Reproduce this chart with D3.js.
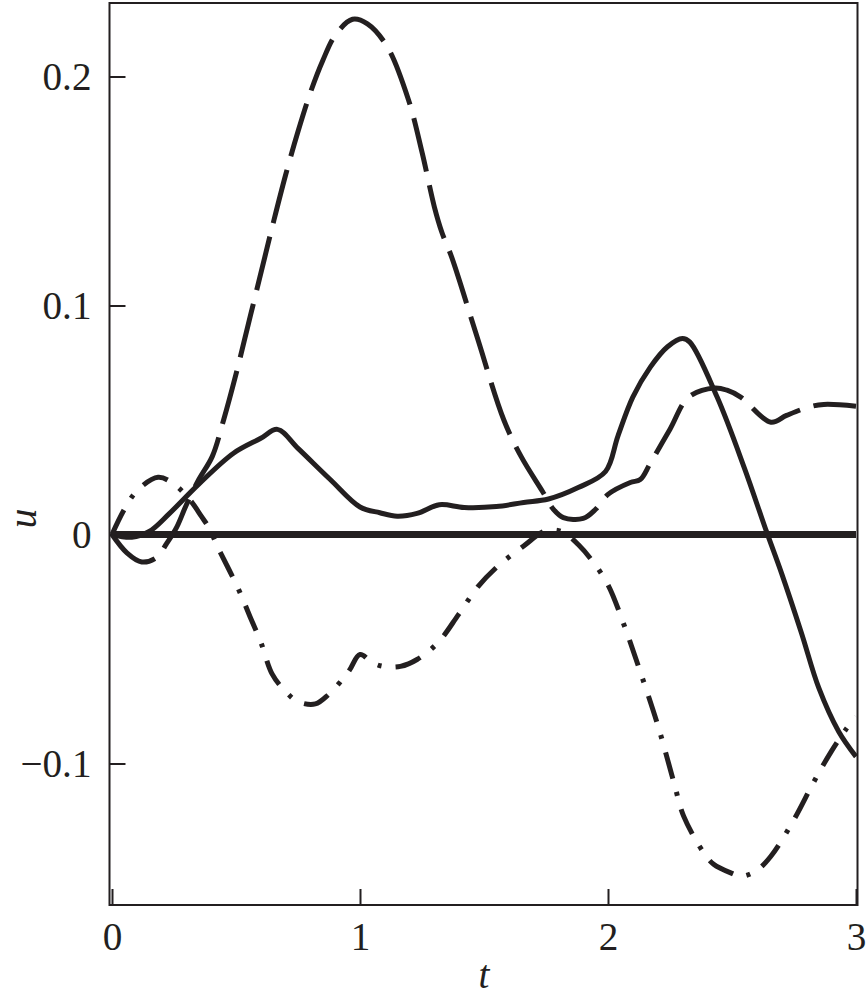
<!DOCTYPE html>
<html lang="en">
<head>
    <meta charset="UTF-8">
    <title>u(t)</title>
    <style>
        body { margin: 0; background: #fff; }
        svg text { font-family: "Liberation Serif", "Times New Roman", Times, serif; fill: #231f20; }
    </style>
    <script src="https://cdn.jsdelivr.net/npm/d3@7"></script>
</head>
<body>
<script>
    // tick values
    var xTicks = [0, 1, 2, 3];
    var yTicks = [0.2, 0.1, 0, -0.1];

    // solid curve
    var solidT = [0, 0.08, 0.15, 0.23, 0.35, 0.49, 0.6, 0.667, 0.75, 0.88, 1.0, 1.08, 1.15, 1.23, 1.32, 1.42, 1.55, 1.66, 1.76, 1.88, 1.99, 2.04, 2.1, 2.17, 2.24, 2.3, 2.33, 2.44, 2.55, 2.64, 2.7, 2.78, 2.85, 2.93, 3.0];
    var solidU = [0, -0.0012, 0.0013, 0.009, 0.022, 0.0355, 0.042, 0.0459, 0.0376, 0.024, 0.012, 0.0095, 0.008, 0.0092, 0.013, 0.0118, 0.0122, 0.014, 0.0155, 0.0205, 0.0275, 0.043, 0.06, 0.073, 0.082, 0.0856, 0.084, 0.06, 0.029, 0.001, -0.017, -0.043, -0.067, -0.086, -0.097];

    // long-dashed curve
    var dashT = [0, 0.06, 0.12, 0.18, 0.22, 0.26, 0.3, 0.35, 0.404, 0.45, 0.5, 0.55, 0.6, 0.65, 0.7, 0.75, 0.8, 0.85, 0.9, 0.97, 1.03, 1.11, 1.195, 1.25, 1.3, 1.33, 1.37, 1.47, 1.58, 1.65, 1.736, 1.78, 1.82, 1.9, 1.95, 2.0, 2.09, 2.13, 2.17, 2.25, 2.325, 2.43, 2.48, 2.535, 2.657, 2.72, 2.806, 2.87, 3.0];
    var dashU = [0, -0.008, -0.012, -0.01, -0.004, 0.003, 0.013, 0.024, 0.034, 0.05, 0.07, 0.092, 0.114, 0.136, 0.157, 0.176, 0.193, 0.207, 0.218, 0.225, 0.223, 0.213, 0.19, 0.167, 0.143, 0.132, 0.121, 0.087, 0.05, 0.034, 0.0188, 0.011, 0.0074, 0.007, 0.011, 0.0175, 0.0227, 0.024, 0.031, 0.046, 0.06, 0.064, 0.063, 0.06, 0.049, 0.052, 0.0555, 0.0568, 0.056];

    // dash-dot curve
    var dotT = [0, 0.05, 0.1, 0.186, 0.25, 0.315, 0.36, 0.396, 0.424, 0.505, 0.557, 0.6, 0.646, 0.7, 0.75, 0.82, 0.872, 0.953, 1.0, 1.05, 1.094, 1.163, 1.23, 1.316, 1.397, 1.474, 1.554, 1.66, 1.74, 1.78, 1.82, 1.88, 1.94, 2.0, 2.063, 2.124, 2.2, 2.265, 2.305, 2.386, 2.426, 2.5, 2.535, 2.596, 2.656, 2.75, 2.83, 2.9, 2.96, 3.0];
    var dotU = [0, 0.011, 0.019, 0.025, 0.022, 0.015, 0.008, 0.002, -0.005, -0.0227, -0.036, -0.047, -0.061, -0.0686, -0.073, -0.074, -0.07, -0.06, -0.0524, -0.056, -0.0576, -0.0576, -0.0546, -0.047, -0.035, -0.023, -0.014, -0.005, 0.0013, 0.002, 0.001, -0.0044, -0.012, -0.022, -0.039, -0.058, -0.083, -0.108, -0.123, -0.139, -0.144, -0.148, -0.1493, -0.147, -0.1406, -0.1245, -0.108, -0.0948, -0.085, -0.0795];

    // zero line
    var zeroT = [0, 3];
    var zeroU = [0, 0];

    var ink = "#231f20";
    var width = 866, height = 1002;
    var frame = {left: 109.5, right: 857.5, top: 3, bottom: 905};

    var svg = d3.select("body").append("svg")
        .attr("width", width)
        .attr("height", height);

    // size the serif face so "0.2" is about as wide as in the print
    var probe = svg.append("text").attr("font-size", 40).text("0.2");
    var probeW = probe.node().getComputedTextLength();
    probe.remove();
    var fs = probeW > 0 ? Math.min(40, 40 * 49 / probeW) : 40;

    var x = d3.scaleLinear().domain([0, 3]).range([112, 856]);
    var y = d3.scaleLinear().domain([-0.1618, 0.2321]).range([frame.bottom, frame.top]);

    // frame
    svg.append("rect")
        .attr("x", frame.left)
        .attr("y", frame.top)
        .attr("width", frame.right - frame.left)
        .attr("height", frame.bottom - frame.top)
        .attr("fill", "none")
        .attr("stroke", ink)
        .attr("stroke-width", 2);

    // x axis, ticks pointing in
    var xAxis = d3.axisBottom(x)
        .tickValues(xTicks)
        .tickFormat(d3.format("d"))
        .tickSizeInner(-16)
        .tickSizeOuter(0)
        .tickPadding(17);

    var gx = svg.append("g")
        .attr("transform", "translate(0," + frame.bottom + ")")
        .call(xAxis);
    gx.select(".domain").remove();
    gx.selectAll(".tick line").attr("stroke", ink).attr("stroke-width", 2);
    gx.selectAll(".tick text")
        .attr("font-size", fs)
        .attr("fill", ink);

    // y axis
    var yAxis = d3.axisLeft(y)
        .tickValues(yTicks)
        .tickFormat(d => d === 0 ? "0" : d3.format(".1f")(d))
        .tickSizeInner(-16)
        .tickSizeOuter(0)
        .tickPadding(18);

    var gy = svg.append("g")
        .attr("transform", "translate(" + frame.left + ",0)")
        .call(yAxis);
    gy.select(".domain").remove();
    gy.selectAll(".tick line").attr("stroke", ink).attr("stroke-width", 2);
    gy.selectAll(".tick text")
        .attr("font-size", fs)
        .attr("fill", ink)
        .attr("dy", "0.34em");

    // axis titles
    svg.append("text")
        .attr("x", x(1.5))
        .attr("y", 988)
        .attr("text-anchor", "middle")
        .attr("font-size", fs)
        .attr("font-style", "italic")
        .text("t");

    svg.append("text")
        .attr("transform", "translate(36," + y(0.007) + ") rotate(-90)")
        .attr("text-anchor", "middle")
        .attr("font-size", fs)
        .attr("font-style", "italic")
        .text("u");

    // curves
    var line = d3.line()
        .x(d => x(d[0]))
        .y(d => y(d[1]))
        .curve(d3.curveCatmullRom.alpha(0.5));

    function pairs(ts, us) {
        return ts.map((t, i) => [t, us[i]]);
    }

    var series = [
        {t: zeroT, u: zeroU, w: 7, dash: null},
        {t: solidT, u: solidU, w: 5, dash: null},
        {t: dashT, u: dashU, w: 5, dash: "55,14"},
        {t: dotT, u: dotU, w: 5, dash: "27,14,4,14"}
    ];

    series.forEach(function(s) {
        svg.append("path")
            .datum(pairs(s.t, s.u))
            .attr("d", line)
            .attr("fill", "none")
            .attr("stroke", ink)
            .attr("stroke-width", s.w)
            .attr("stroke-dasharray", s.dash)
            .attr("stroke-linejoin", "round");
    });
</script>
</body>
</html>
